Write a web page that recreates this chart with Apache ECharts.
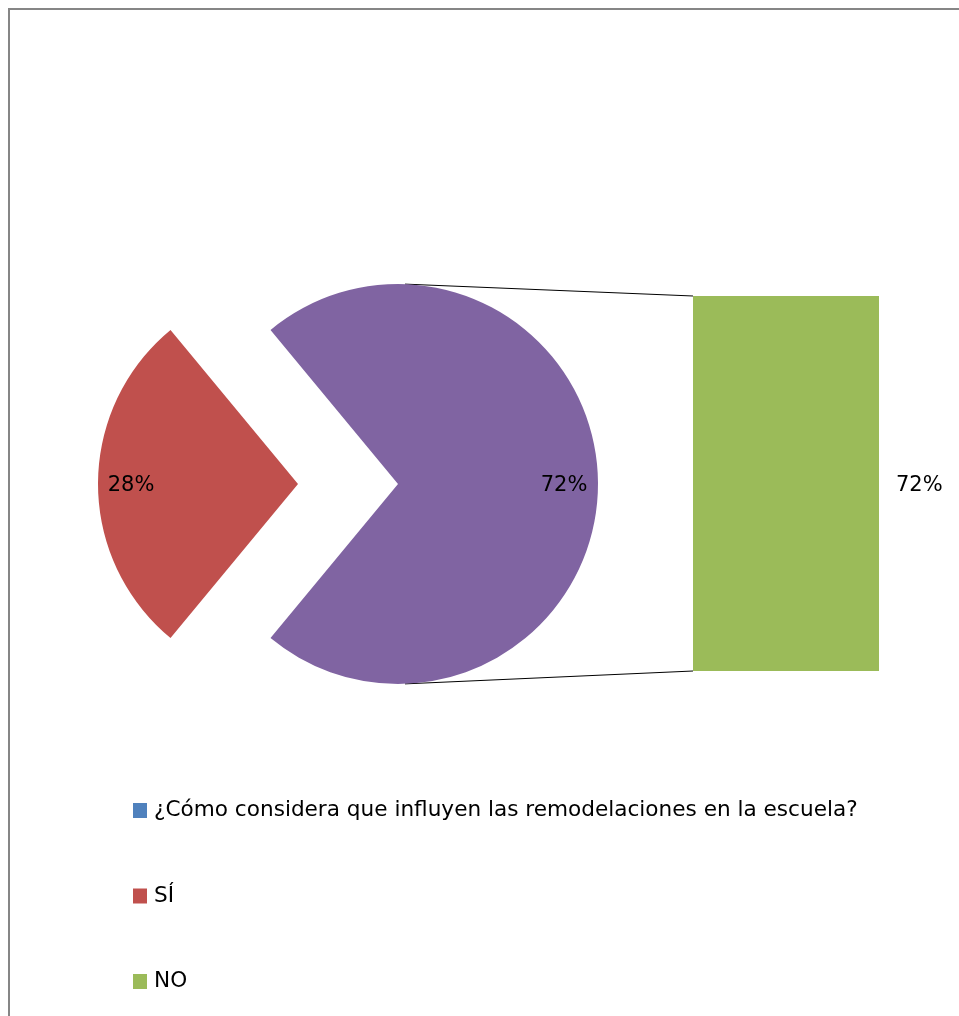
<!DOCTYPE html>
<html>
<head>
<meta charset="utf-8">
<script src="https://cdn.jsdelivr.net/npm/echarts@6/dist/echarts.min.js"></script>
<style>
  html, body { margin: 0; padding: 0; background: #fff; }
  #chart { width: 959px; height: 1016px; }
</style>
</head>
<body>
<div id="chart"></div>
<script>
// Survey answers (percent of respondents)
const seriesTitle = '¿Cómo considera que influyen las remodelaciones en la escuela?';
const categories = ['SÍ', 'NO'];
const shares = [28, 72];
const otherName = 'Otro';

// Palette
const colors = {
  title: '#4F81BD',
  yes: '#C0504D',
  other: '#8064A2',
  no: '#9BBB59'
};

const FONT = '"DejaVu Sans", sans-serif';
const FONT_SIZE = 21;

// Layout of the pie and the secondary bar
const pieCenter = [398, 484];
const pieRadius = 200;
const explode = 100;
const barGrid = { left: 693, top: 296, width: 186, height: 375 };

const total = shares[0] + shares[1];
// The SÍ slice is centred on the left (180°); slices run clockwise from here
const startAngle = 180 + (shares[0] / total) * 180;

// Connector lines run from the top and bottom of the pie to the bar's corners.
// The bar fills its grid because the value axis ends at the bar's own value.
const arcDx = 7;
const arcDy = Math.sqrt(pieRadius * pieRadius - arcDx * arcDx);
const connectors = [
  [pieCenter[0] + arcDx, pieCenter[1] - arcDy, barGrid.left, barGrid.top],
  [pieCenter[0] + arcDx, pieCenter[1] + arcDy, barGrid.left, barGrid.top + barGrid.height]
];

const chart = echarts.init(document.getElementById('chart'), null, { renderer: 'canvas' });

const option = {
  animation: false,
  backgroundColor: '#fff',
  grid: barGrid,
  xAxis: { type: 'category', data: [categories[1]], show: false },
  yAxis: { type: 'value', min: 0, max: shares[1], show: false },
  legend: {
    orient: 'vertical',
    left: 128,
    top: 793,
    icon: 'rect',
    itemWidth: 14,
    itemHeight: 15,
    itemGap: 60.5,
    selectedMode: false,
    textStyle: {
      fontFamily: FONT,
      fontSize: 21.6,
      lineHeight: 25,
      color: '#000',
      padding: [0, 0, 0, 2]
    },
    data: [seriesTitle, categories[0], categories[1]]
  },
  graphic: [
    {
      type: 'rect',
      silent: true,
      shape: { x: 9, y: 9, width: 1100, height: 1100 },
      style: { fill: 'none', stroke: '#868686', lineWidth: 2 }
    }
  ].concat(connectors.map(function (c) {
    return {
      type: 'line',
      silent: true,
      shape: { x1: c[0], y1: c[1], x2: c[2], y2: c[3] },
      style: { stroke: '#000', lineWidth: 1 }
    };
  })),
  series: [
    {
      // Series entry used by the legend only
      name: seriesTitle,
      type: 'line',
      data: [],
      itemStyle: { color: colors.title },
      lineStyle: { color: colors.title }
    },
    {
      type: 'pie',
      center: pieCenter,
      radius: pieRadius,
      startAngle: startAngle,
      clockwise: true,
      selectedMode: 'single',
      selectedOffset: explode,
      avoidLabelOverlap: false,
      emphasis: { disabled: true },
      label: {
        show: true,
        position: 'inside',
        formatter: '{d}%',
        fontFamily: FONT,
        fontSize: FONT_SIZE,
        color: '#000'
      },
      labelLine: { show: false },
      labelLayout: function (p) {
        return { dx: p.dataIndex === 0 ? -64 : 63, dy: 2 };
      },
      data: [
        { name: categories[0], value: shares[0], selected: true, itemStyle: { color: colors.yes } },
        { name: otherName, value: shares[1], itemStyle: { color: colors.other } }
      ]
    },
    {
      name: categories[1],
      type: 'bar',
      barWidth: '100%',
      itemStyle: { color: colors.no },
      label: {
        show: true,
        position: 'right',
        distance: 17,
        offset: [0, 2],
        formatter: '{c}%',
        fontFamily: FONT,
        fontSize: FONT_SIZE,
        color: '#000'
      },
      data: [shares[1]]
    }
  ]
};

chart.setOption(option);
</script>
</body>
</html>
